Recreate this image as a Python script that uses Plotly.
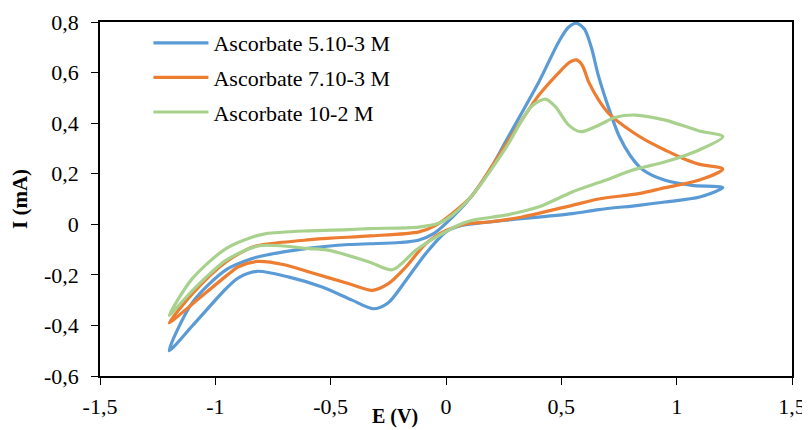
import plotly.graph_objects as go

# ---- data (E in V, I in mA), closed CV loops ----
e_5e3 = [-1.2, -1.1, -0.954, -0.84, -0.77, -0.6, -0.42, -0.33, -0.2, -0.12, -0.05, 0.03, 0.114, 0.2, 0.258,
         0.403, 0.489, 0.53, 0.565, 0.6, 0.63, 0.66, 0.706, 0.75, 0.8, 0.85, 0.95, 1.066, 1.2,
         1.1, 0.95, 0.835, 0.662, 0.547, 0.258, 0.157, 0.07, 0.0, -0.088, -0.174, -0.25, -0.315, -0.407,
         -0.537, -0.68, -0.82, -0.9, -0.954, -1.098, -1.2]
i_5e3 = [-0.5, -0.31, -0.18, -0.135, -0.12, -0.095, -0.08, -0.077, -0.072, -0.063, -0.035, 0.03, 0.115, 0.23, 0.326,
         0.564, 0.722, 0.778, 0.795, 0.772, 0.70, 0.59, 0.458, 0.35, 0.27, 0.218, 0.174, 0.154, 0.145,
         0.108, 0.088, 0.075, 0.058, 0.042, 0.016, 0.006, -0.004, -0.03, -0.116, -0.222, -0.31, -0.334, -0.3,
         -0.248, -0.209, -0.186, -0.212, -0.255, -0.4, -0.5]

e_7e3 = [-1.2, -1.1, -0.954, -0.838, -0.766, -0.6, -0.5, -0.33, -0.117, -0.045, 0.03, 0.114, 0.258,
         0.403, 0.5, 0.535, 0.565, 0.59, 0.62, 0.662, 0.706, 0.807, 0.879, 0.951, 1.023, 1.095, 1.2,
         1.095, 0.951, 0.835, 0.662, 0.547, 0.33, 0.186, 0.1, 0.0, -0.088, -0.174, -0.25, -0.319, -0.42,
         -0.593, -0.7, -0.82, -0.9, -0.954, -1.098, -1.2]
i_7e3 = [-0.39, -0.275, -0.149, -0.09, -0.077, -0.062, -0.055, -0.046, -0.03, -0.004, 0.045, 0.115, 0.313,
         0.511, 0.61, 0.64, 0.65, 0.63, 0.56, 0.491, 0.438, 0.366, 0.326, 0.293, 0.262, 0.238, 0.218,
         0.174, 0.145, 0.121, 0.1, 0.075, 0.029, 0.009, 0.003, -0.024, -0.077, -0.169, -0.235, -0.261, -0.235,
         -0.189, -0.16, -0.147, -0.168, -0.205, -0.314, -0.39]

e_1e2 = [-1.2, -1.1, -0.954, -0.838, -0.78, -0.6, -0.42, -0.333, -0.117, -0.03, 0.027, 0.114, 0.258,
         0.37, 0.431, 0.474, 0.532, 0.583, 0.662, 0.735, 0.821, 0.951, 1.095, 1.2,
         1.095, 0.951, 0.807, 0.691, 0.547, 0.403, 0.258, 0.114, 0.07, -0.03, -0.131, -0.232, -0.333,
         -0.506, -0.593, -0.81, -0.954, -1.098, -1.2]
i_1e2 = [-0.36, -0.215, -0.096, -0.05, -0.037, -0.026, -0.021, -0.017, -0.011, 0.005, 0.036, 0.115, 0.3,
         0.465, 0.495, 0.465, 0.392, 0.366, 0.392, 0.423, 0.432, 0.412, 0.37, 0.346,
         0.293, 0.247, 0.214, 0.174, 0.128, 0.069, 0.036, 0.016, 0.003, -0.044, -0.103, -0.18, -0.149,
         -0.103, -0.096, -0.085, -0.143, -0.261, -0.36]

series_names = ["Ascorbate 5.10-3 M", "Ascorbate 7.10-3 M", "Ascorbate 10-2 M"]
colors = ["#5B9BD5", "#ED7D31", "#A9D18E"]

x_tickvals = [-1.5, -1, -0.5, 0, 0.5, 1, 1.5]
x_ticktext = ["-1,5", "-1", "-0,5", "0", "0,5", "1", "1,5"]
y_tickvals = [-0.6, -0.4, -0.2, 0, 0.2, 0.4, 0.6, 0.8]
y_ticktext = ["-0,6", "-0,4", "-0,2", "0", "0,2", "0,4", "0,6", "0,8"]

FONT = "Liberation Serif, Times New Roman, serif"

fig = go.Figure()
for ex, iy, name, col in zip([e_5e3, e_7e3, e_1e2], [i_5e3, i_7e3, i_1e2], series_names, colors):
    fig.add_trace(go.Scatter(x=ex, y=iy, mode="lines", name=name, legendgroup=name,
                             line=dict(color=col, width=3.2, shape="spline", smoothing=0.8)))

fig.update_layout(
    width=802, height=422,
    margin=dict(l=92, r=18, t=14, b=54),
    paper_bgcolor="white", plot_bgcolor="white",
    font=dict(family=FONT, size=22, color="black"),
    showlegend=True,
    legend=dict(x=0.07, y=1.0, xanchor="left", yanchor="top",
                font=dict(family=FONT, size=22, color="black"),
                bgcolor="rgba(0,0,0,0)", itemwidth=55, tracegroupgap=3),
    xaxis=dict(range=[-1.5, 1.5], tickvals=x_tickvals, ticktext=x_ticktext, automargin=False,
               showgrid=False, zeroline=False, showline=True, linecolor="black", linewidth=1.5,
               mirror=True, ticks="outside", ticklen=7, tickcolor="black", tickwidth=1,
               ticklabelstandoff=3, tickfont=dict(family=FONT, size=22)),
    yaxis=dict(range=[-0.6, 0.8], tickvals=y_tickvals, ticktext=y_ticktext, automargin=False,
               showgrid=False, zeroline=False, showline=True, linecolor="black", linewidth=1.5,
               mirror=True, ticks="outside", ticklen=7, tickcolor="black", tickwidth=1,
               ticklabelstandoff=8, tickfont=dict(family=FONT, size=22),
               title=dict(text="<b>I (mA)</b>", font=dict(family=FONT, size=21), standoff=22)),
)
fig.add_annotation(text="<b>E (V)</b>", xref="paper", yref="paper", x=0.426, y=0,
                   xanchor="center", yanchor="top", yshift=-27, showarrow=False,
                   font=dict(family=FONT, size=20, color="black"))

fig.write_html("out.html")
